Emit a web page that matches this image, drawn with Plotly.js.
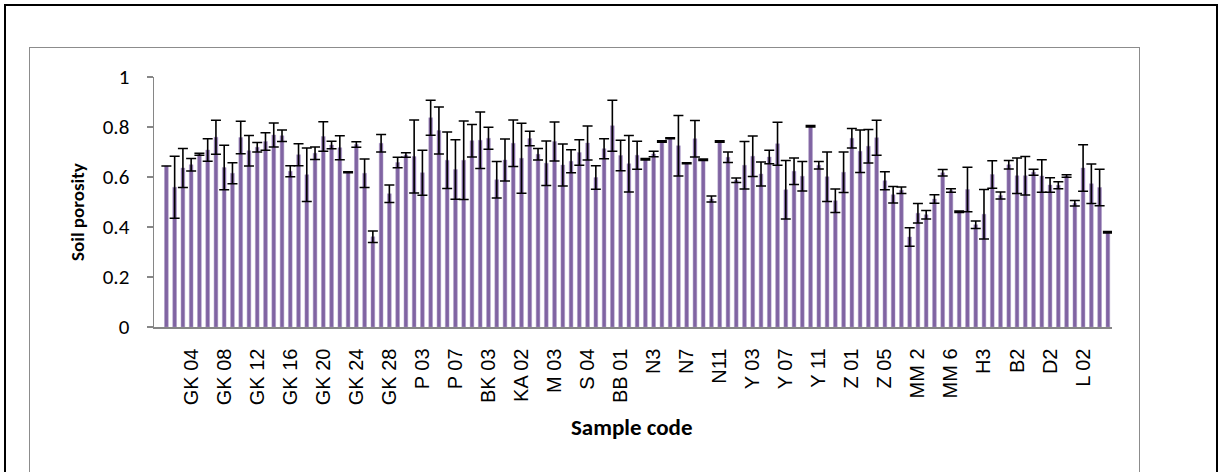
<!DOCTYPE html>
<html>
<head>
<meta charset="utf-8">
<script src="https://cdn.plot.ly/plotly-3.0.1.min.js"></script>
<style>
  html, body { margin: 0; padding: 0; background: #fff; }
  #wrap { position: relative; width: 1225px; height: 472px; overflow: hidden; }
  #outer { position: absolute; left: 4px; top: 4px; width: 1214px; height: 520px; border: 2px solid #000; box-sizing: border-box; }
  #inner { position: absolute; left: 29px; top: 47px; width: 1111px; height: 520px; border: 1.5px solid #8c8c8c; box-sizing: border-box; }
  #chart { position: absolute; left: 0; top: 0; width: 1225px; height: 472px; }
</style>
</head>
<body>
<div id="wrap">
  <div id="outer"></div>
  <div id="inner"></div>
  <div id="chart"></div>
</div>
<script>
// Category slot 1 is an empty (blank) category; labels are shown every 4th category.
const tickLabels = ["GK 04","GK 08","GK 12","GK 16","GK 20","GK 24","GK 28","P 03","P 07","BK 03",
  "KA 02","M 03","S 04","BB 01","N3","N7","N11","Y 03","Y 07","Y 11","Z 01","Z 05","MM 2","MM 6",
  "H3","B2","D2","L 02"];

// Mean soil porosity per sample (slot 1 empty)
const porosity = [null,
  0.644, 0.559, 0.636, 0.649, 0.691, 0.708, 0.759, 0.638, 0.615, 0.758,
  0.705, 0.719, 0.742, 0.768, 0.765, 0.623, 0.689, 0.609, 0.695, 0.762,
  0.728, 0.717, 0.619, 0.730, 0.615, 0.361, 0.735, 0.533, 0.658, 0.688,
  0.682, 0.617, 0.837, 0.786, 0.667, 0.630, 0.667, 0.745, 0.747, 0.755,
  0.589, 0.668, 0.735, 0.675, 0.754, 0.691, 0.655, 0.742, 0.648, 0.663,
  0.698, 0.736, 0.598, 0.713, 0.805, 0.686, 0.653, 0.687, 0.671, 0.692,
  0.742, 0.755, 0.725, 0.655, 0.753, 0.669, 0.512, 0.742, 0.679, 0.587,
  0.647, 0.683, 0.612, 0.680, 0.733, 0.549, 0.623, 0.603, 0.803, 0.647,
  0.601, 0.505, 0.619, 0.755, 0.703, 0.723, 0.757, 0.585, 0.529, 0.547,
  0.360, 0.455, 0.449, 0.512, 0.617, 0.546, 0.461, 0.550, 0.409, 0.451,
  0.610, 0.526, 0.649, 0.605, 0.605, 0.619, 0.604, 0.568, 0.567, 0.604,
  0.495, 0.636, 0.573, 0.558, 0.379];

// Standard deviation (error bar half-length)
const porositySD = [null,
  null, 0.124, 0.078, 0.025, 0.004, 0.045, 0.068, 0.089, 0.042, 0.065,
  0.061, 0.019, 0.035, 0.048, 0.023, 0.022, 0.044, 0.107, 0.025, 0.059,
  0.015, 0.048, 0.002, 0.011, 0.057, 0.023, 0.035, 0.035, 0.021, 0.009,
  0.146, 0.090, 0.070, 0.094, 0.113, 0.119, 0.157, 0.065, 0.113, 0.044,
  0.073, 0.084, 0.093, 0.140, 0.029, 0.023, 0.089, 0.078, 0.084, 0.046,
  0.051, 0.068, 0.047, 0.040, 0.102, 0.061, 0.113, 0.056, 0.003, 0.011,
  0.003, 0.002, 0.121, 0.002, 0.073, 0.003, 0.012, 0.003, 0.021, 0.009,
  0.095, 0.081, 0.048, 0.027, 0.086, 0.117, 0.053, 0.059, 0.003, 0.015,
  0.099, 0.047, 0.081, 0.039, 0.085, 0.067, 0.070, 0.036, 0.033, 0.013,
  0.037, 0.039, 0.017, 0.017, 0.013, 0.007, 0.003, 0.089, 0.015, 0.099,
  0.055, 0.014, 0.017, 0.071, 0.077, 0.012, 0.065, 0.029, 0.014, 0.005,
  0.011, 0.093, 0.079, 0.073, 0.003];

const slots = porosity.map((_, i) => i + 1);
const tickSlots = tickLabels.map((_, k) => 5 + 4 * k);

const trace = {
  type: 'bar',
  x: slots,
  y: porosity,
  width: 0.45,
  marker: { color: '#8064A2', line: { color: '#a896c4', width: 0.5 } },
  error_y: { type: 'data', array: porositySD, visible: true, color: '#000000', thickness: 1.6, width: 5 },
  hoverinfo: 'x+y'
};

const layout = {
  width: 1225, height: 472,
  margin: { l: 154, r: 113, t: 77, b: 145, pad: 0 },
  paper_bgcolor: 'rgba(0,0,0,0)',
  plot_bgcolor: 'rgba(0,0,0,0)',
  showlegend: false,
  bargap: 0,
  xaxis: {
    range: [0.5, slots.length + 0.5],
    tickmode: 'array', tickvals: tickSlots, ticktext: tickLabels,
    tickangle: -90, ticks: '', ticklabelstandoff: 12,
    tickfont: { family: 'Liberation Sans, Arial, sans-serif', size: 20, color: '#000' },
    showline: true, linecolor: '#868686', linewidth: 1.5,
    showgrid: false, zeroline: false, fixedrange: true
  },
  yaxis: {
    range: [0, 1], dtick: 0.2, tick0: 0,
    ticks: 'outside', ticklen: 6, tickcolor: '#868686', tickwidth: 1.5,
    ticklabelstandoff: 13,
    tickfont: { family: 'Carlito, Lato, sans-serif', size: 21, color: '#000' },
    showline: true, linecolor: '#868686', linewidth: 1.5,
    showgrid: false, zeroline: false, fixedrange: true
  },
  annotations: [
    { text: '<b>Soil porosity</b>', xref: 'paper', yref: 'paper', x: -0.0804, y: 0.46,
      textangle: -90, showarrow: false, xanchor: 'center', yanchor: 'middle',
      font: { family: 'Carlito, Lato, sans-serif', size: 19, color: '#000' } },
    { text: '<b>Sample code</b>', xref: 'paper', yref: 'paper', x: 0.499, y: -0.401,
      showarrow: false, xanchor: 'center', yanchor: 'middle',
      font: { family: 'Carlito, Lato, sans-serif', size: 23, color: '#000' } }
  ]
};

Plotly.newPlot('chart', [trace], layout, { displayModeBar: false, staticPlot: true });
</script>
</body>
</html>
